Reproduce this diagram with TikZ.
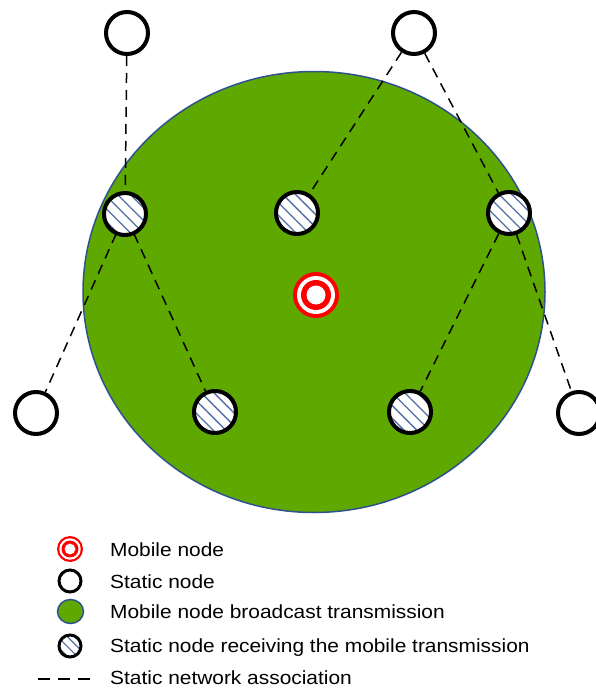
\documentclass[tikz,border=0pt]{standalone}
\usepackage{fontspec}
\setmainfont{Liberation Sans}
\usetikzlibrary{patterns.meta,shapes.geometric}
\definecolor{bcgreen}{RGB}{95,168,0}
\definecolor{bcedge}{RGB}{47,82,143}
\definecolor{hatchblue}{RGB}{80,110,165}
\definecolor{mobred}{RGB}{255,0,0}
\tikzset{
  staticnode/.style={circle, draw=black, fill=white, line width=4pt, minimum size=42pt, inner sep=0pt},
  rxnode/.style={staticnode, preaction={fill=white},
    pattern={Lines[angle=-45,distance=9pt,line width=1.3pt]}, pattern color=hatchblue},
  assoc/.style={draw=black, line width=1.5pt, dash pattern=on 10pt off 7pt},
  legtext/.style={anchor=base west, inner sep=0pt, font=\fontsize{19}{22}\selectfont},
  smallstatic/.style={circle, draw=black, fill=white, line width=3pt, minimum size=21pt, inner sep=0pt},
  smallrx/.style={smallstatic, preaction={fill=white},
    pattern={Lines[angle=-45,distance=7pt,line width=1.2pt]}, pattern color=hatchblue},
}
\newcommand{\mobilemark}[3]{% centre, outer radius, name
  \fill[mobred] (#1) circle (#2);
  \fill[white] (#1) circle ({#2*0.826});
  \fill[mobred] (#1) circle ({#2*0.652});
  \fill[white] (#1) circle ({#2*0.413});
  \coordinate (#3) at (#1);
}
\newcommand{\legendlabel}[1]{\scalebox{1.1}[1]{#1}}
\begin{document}
\begin{tikzpicture}[x=1pt,y=-1pt]
\useasboundingbox (0,0) rectangle (595,688);

% broadcast range of the mobile node
\node[ellipse, draw=bcedge, fill=bcgreen, line width=1.5pt, minimum width=462pt, minimum height=441pt, inner sep=0pt] (range) at (314,292) {};

% static nodes outside the range
\node[staticnode] (s1) at (127,33) {};
\node[staticnode] (s2) at (414,33) {};
\node[staticnode] (s3) at (36,413) {};
\node[staticnode] (s4) at (579,413) {};

% static nodes inside the range
\node[rxnode] (r1) at (125,214) {};
\node[rxnode] (r2) at (297,213) {};
\node[rxnode] (r3) at (509,213) {};
\node[rxnode] (r4) at (215,412) {};
\node[rxnode] (r5) at (410,412) {};

% mobile node
\mobilemark{316,295}{23}{mob}

% static network associations
\draw[assoc] (s1) -- (r1);
\draw[assoc] (r1) -- (s3);
\draw[assoc] (r1) -- (r4);
\draw[assoc] (s2) -- (r2);
\draw[assoc] (s2) -- (r3);
\draw[assoc] (r3) -- (r5);
\draw[assoc] (r3) -- (s4);

% legend
\mobilemark{70,549}{13}{lmob}
\node[smallstatic, minimum size=22pt] (lstat) at (70,581) {};
\node[ellipse, draw=bcedge, fill=bcgreen, line width=1.5pt, minimum width=26pt, minimum height=24pt, inner sep=0pt] (lrange) at (70.5,611.5) {};
\node[smallrx, minimum size=22pt] (lrx) at (70,646) {};
\coordinate (la) at (38,679);
\coordinate (lb) at (94,679);
\draw[draw=black, line width=1.5pt, dash pattern=on 12pt off 8pt] (la) -- (lb);

\node[legtext] (t1) at (110,556) {\legendlabel{Mobile node}};
\node[legtext] (t2) at (110,588) {\legendlabel{Static node}};
\node[legtext] (t3) at (110,618.5) {\legendlabel{Mobile node broadcast transmission}};
\node[legtext] (t4) at (110,652.5) {\legendlabel{Static node receiving the mobile transmission}};
\node[legtext] (t5) at (110,684.5) {\legendlabel{Static network association}};
\end{tikzpicture}
\end{document}
